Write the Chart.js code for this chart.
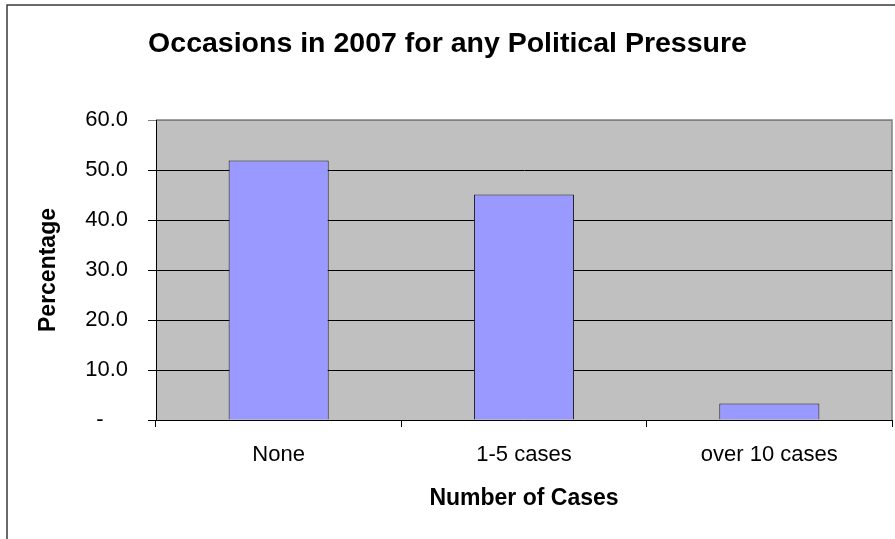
<!DOCTYPE html>
<html>
<head>
<meta charset="utf-8">
<title>Occasions in 2007 for any Political Pressure</title>
<script src="https://cdn.jsdelivr.net/npm/chart.js@4/dist/chart.umd.min.js"></script>
<style>
  html, body { margin: 0; padding: 0; background: #fff; }
  canvas { display: block; }
</style>
</head>
<body>
<canvas id="chart" width="895" height="539"></canvas>
<script>
// Survey results: share of respondents by number of political-pressure occasions
const categories = ["None", "1-5 cases", "over 10 cases"];
const percentages = [51.9, 45.1, 3.3];
const yMax = 60;
const yStep = 10;

const FONT = "'Liberation Sans', Arial, sans-serif";

// gray plot area with darker frame, plus the outer chart frame
const plotBackground = {
    id: "plotBackground",
    beforeDraw(chart) {
        const { ctx, chartArea: a } = chart;
        ctx.save();
        ctx.fillStyle = "#c0c0c0";
        ctx.fillRect(a.left, a.top, a.right - a.left, a.bottom - a.top);
        ctx.strokeStyle = "#808080";
        ctx.lineWidth = 1.5;
        ctx.beginPath();
        ctx.moveTo(a.left, a.top);
        ctx.lineTo(a.right, a.top);
        ctx.lineTo(a.right, a.bottom);
        ctx.stroke();

        ctx.strokeStyle = "#3a3a3a";
        ctx.lineWidth = 1.5;
        ctx.beginPath();
        ctx.moveTo(7, chart.height);
        ctx.lineTo(7, 5);
        ctx.lineTo(chart.width, 5);
        ctx.stroke();
        ctx.restore();
    }
};

const chart = new Chart(document.getElementById("chart"), {
    type: "bar",
    data: {
        labels: categories,
        datasets: [{
            data: percentages,
            backgroundColor: "#9999ff",
            borderColor: "#1a1a1a",
            borderWidth: 1,
            barPercentage: 0.408,
            categoryPercentage: 1
        }]
    },
    options: {
        responsive: false,
        devicePixelRatio: 1,
        animation: false,
        // equal side padding keeps the title centred on the canvas
        layout: { padding: { left: 3, right: 3, top: 0, bottom: 26.5 } },
        plugins: {
            legend: { display: false },
            tooltip: { enabled: false },
            title: {
                display: true,
                text: "Occasions in 2007 for any Political Pressure",
                color: "#000",
                font: { family: FONT, size: 28.5, weight: "bold" },
                padding: { top: 26.7, bottom: 59.1 }
            }
        },
        scales: {
            x: {
                afterFit(scale) { scale.height = 92.5; },
                grid: {
                    offset: true,
                    drawOnChartArea: false,
                    drawTicks: true,
                    tickLength: 7,
                    color: "#000"
                },
                border: { display: true, color: "#000", width: 1 },
                ticks: {
                    color: "#000",
                    font: { family: FONT, size: 22 },
                    padding: 15,
                    maxRotation: 0
                },
                title: {
                    display: true,
                    text: "Number of Cases",
                    color: "#000",
                    font: { family: FONT, size: 23, weight: "bold" },
                    padding: 0
                }
            },
            y: {
                min: 0,
                max: yMax,
                afterFit(scale) { scale.width = 153; },
                grid: {
                    color: ctx => ctx.tick && ctx.tick.value === yMax ? "#808080" : "#000",
                    lineWidth: 1,
                    tickLength: 8
                },
                border: { display: true, color: "#000", width: 1 },
                ticks: {
                    stepSize: yStep,
                    color: "#000",
                    font: { family: FONT, size: 22 },
                    padding: 20,
                    // accounting style: zero shown as a dash
                    callback: v => v === 0 ? "-    " : v.toFixed(1)
                },
                title: {
                    display: true,
                    text: "Percentage",
                    color: "#000",
                    font: { family: FONT, size: 23, weight: "bold" },
                    padding: { top: 32.2, bottom: 0 }
                }
            }
        }
    },
    plugins: [plotBackground]
});
</script>
</body>
</html>
